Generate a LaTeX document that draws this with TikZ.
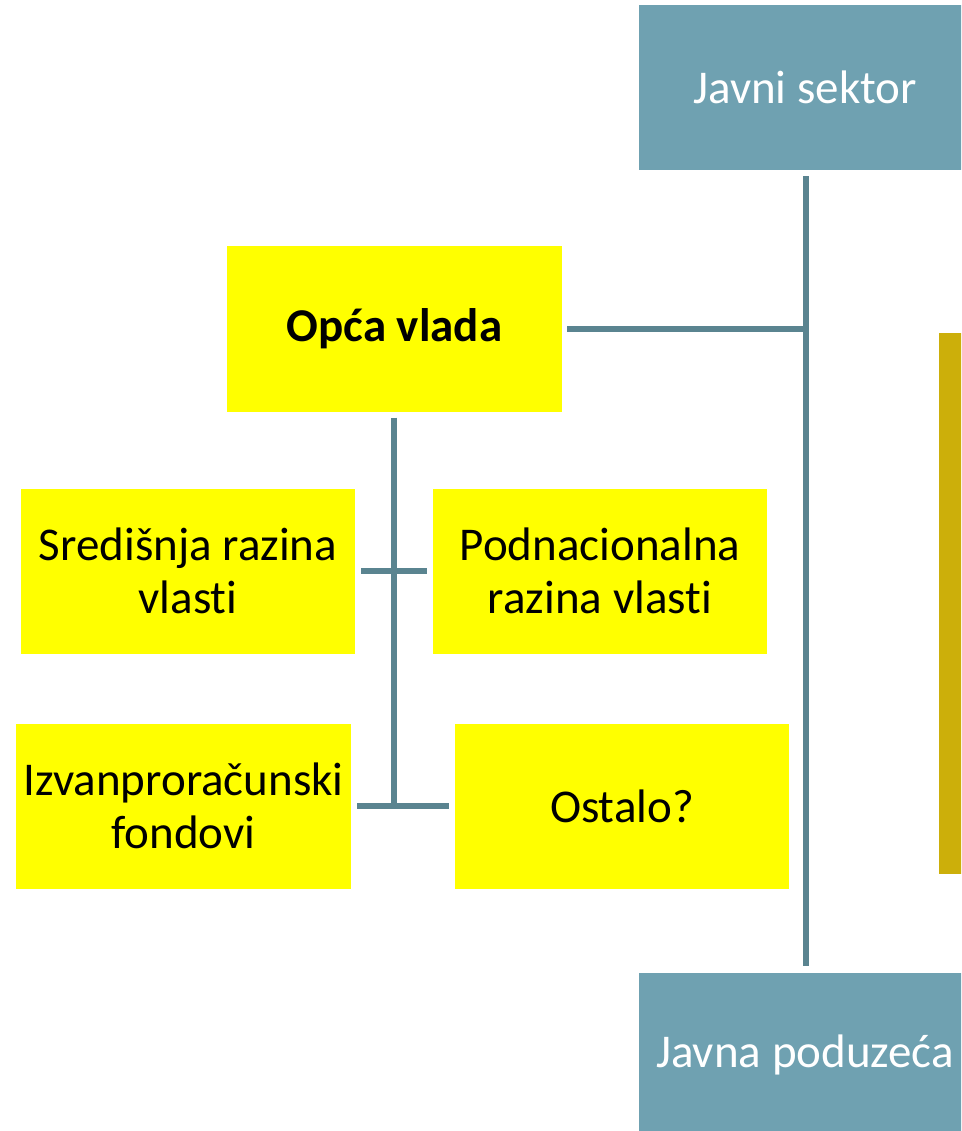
\documentclass[tikz,border=0pt]{standalone}
\usepackage{fontspec}
\setmainfont{Carlito}[Ligatures=NoCommon]
\definecolor{tealbox}{HTML}{6FA1B1}
\definecolor{tealline}{HTML}{5A8490}
\definecolor{ybox}{HTML}{FFFF00}
\definecolor{olive}{HTML}{CCAF0A}
\begin{document}
\begin{tikzpicture}[x=1pt,y=-1pt,
  tealnode/.style={fill=tealbox, text=white, minimum width=332pt, minimum height=165pt, inner sep=0pt, font=\fontsize{47}{56}\selectfont},
  ynode/.style={fill=ybox, text=black, minimum width=335pt, minimum height=165pt, inner sep=0pt, align=center, font=\fontsize{47}{53}\selectfont},
  conn/.style={draw=tealline, line width=6pt}]
\useasboundingbox (0,0) rectangle (961,1131);
\clip (0,0) rectangle (961,1131);
\node[tealnode] (js) at (805,87.5) {Javni sektor};
\node[tealnode] (jp) at (805,1055) {Javna poduzeća};
\node[fill=olive, minimum width=40pt, minimum height=541pt, inner sep=0pt] (ol) at (959,603.5) {};
\node[ynode] (opca) at (394.5,329) {\bfseries Opća vlada};
\node[ynode, minimum width=334pt] (sred) at (188,571) {Središnja razina\\vlasti};
\node[ynode, minimum width=334pt] (podn) at (600,571) {Podnacionalna\\razina vlasti};
\node[ynode] (izv) at (183.5,806) {Izvanproračunski\\fondovi};
\node[ynode, minimum width=334pt] (ost) at (622,806) {Ostalo?};
\coordinate (tj) at (806,329);
\coordinate (bj) at (394,806);
\draw[conn] ([yshift=-6pt]js.south -| tj) -- ([yshift=6pt]jp.north -| tj);
\draw[conn] ([xshift=5pt]opca.east) -- (tj);
\draw[conn] ([yshift=-6pt]opca.south -| bj) -- (bj);
\draw[conn] ([xshift=6pt]sred.east) -- ([xshift=-6pt]podn.west);
\draw[conn] ([xshift=6pt]izv.east) -- ([xshift=-6pt]ost.west);
\end{tikzpicture}
\end{document}
